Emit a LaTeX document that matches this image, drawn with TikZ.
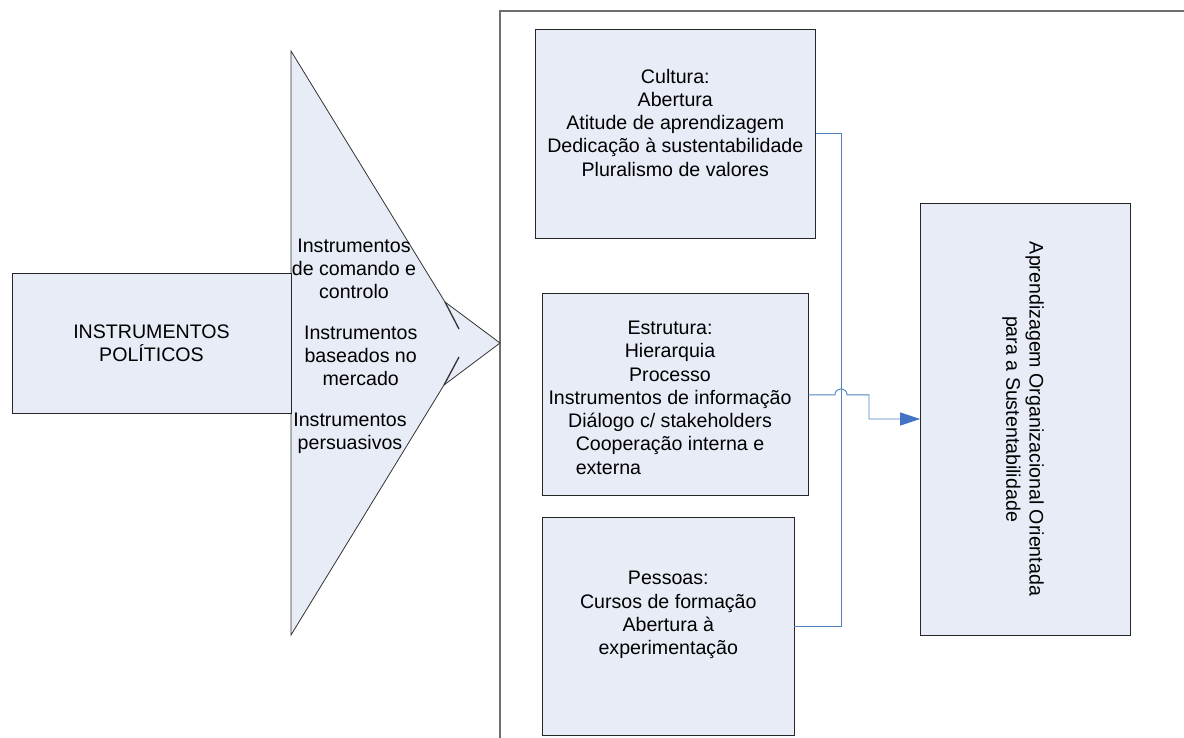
\documentclass[tikz,border=0pt]{standalone}
\usepackage{fontspec}
\setmainfont{Liberation Sans}
\usetikzlibrary{arrows.meta}
\definecolor{boxfill}{RGB}{231,236,247}
\definecolor{linkblue}{RGB}{79,129,189}
\definecolor{tipblue}{RGB}{68,114,196}
\definecolor{framegray}{RGB}{110,110,110}
\begin{document}
\begin{tikzpicture}[x=1pt,y=-1pt,
  box/.style={draw=black!85, line width=0.9pt, fill=boxfill, inner sep=0pt},
  txt/.style={align=center, font=\fontsize{19.6}{23.25}\selectfont, inner sep=0pt},
  link/.style={draw=linkblue, line width=0.9pt},
  edge/.style={draw=black!80, line width=0.8pt},
]
\useasboundingbox (0,0) rectangle (1184,738);

% frame around the organisation
\draw[framegray, line width=1.4pt] (500,738) -- (500,11) -- (1184,11);

% policy arrow: wide triangle with a small arrow head in front
\path[edge, fill=boxfill] (291,51) -- (445,302) -- (500,343) -- (444,385) -- (291,635) -- cycle;
\draw[edge, line width=1.3pt] (445,302) -- (459,329);
\draw[edge, line width=1.3pt] (459,357) -- (444,385);

% boxes
\node[box, minimum width=279pt, minimum height=140pt] (pol) at (151.5,343) {};
\node[box, minimum width=280.7pt, minimum height=209pt] (cult) at (675.3,133.5) {};
\node[box, minimum width=265.3pt, minimum height=201.7pt] (est) at (675.3,394.8) {};
\node[box, minimum width=251.3pt, minimum height=217.7pt] (pess) at (668.3,626.2) {};
\node[box, minimum width=209.3pt, minimum height=432pt] (goal) at (1025.3,419) {};

% texts
\node[txt] (poltxt) at (151.5,343) {INSTRUMENTOS\\POLÍTICOS};
\node[txt] (cmd) at (354,269) {Instrumentos\\de comando e\\controlo};
\node[txt] (mkt) at (360.7,356) {Instrumentos\\baseados no\\mercado};
\node[txt] (per) at (350,433) {Instrumentos\\persuasivos};
\node[txt] (culttxt) at (675.3,122.5) {Cultura:\\Abertura\\Atitude de aprendizagem\\Dedicação à sustentabilidade\\Pluralismo de valores};
\node[txt] (esttxt) at (670,401) {Estrutura:\\Hierarquia\\Processo\\Instrumentos de informação\\Diálogo c/ stakeholders\\\begin{tabular}[t]{@{}l@{}}Cooperação interna e\\externa\end{tabular}};
\node[txt] (pesstxt) at (668.3,615) {Pessoas:\\Cursos de formação\\Abertura à\\experimentação};
\node[txt, rotate=-90] (goaltxt) at (1023,419) {Aprendizagem Organizacional Orientada\\para a Sustentabilidade};

% connectors
\coordinate (vx) at (841,0);
\coordinate (jl) at (835,0);
\coordinate (jr) at (847,0);
\coordinate (sx) at (869,0);
\draw[link] (cult.east) -- (cult.east -| vx) -- (pess.east -| vx) -- (pess.east);
\draw[link, -{Triangle[length=20pt,width=13pt,color=tipblue]}]
  (est.east) -- (est.east -| jl) .. controls +(0,-8) and +(0,-8) .. (est.east -| jr)
  -- (est.east -| sx) -- (goal.west -| sx) -- (goal.west);
\end{tikzpicture}
\end{document}
